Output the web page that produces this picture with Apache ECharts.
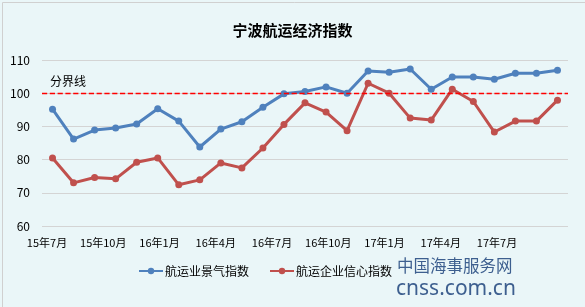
<!DOCTYPE html>
<html><head><meta charset="utf-8">
<script src="https://cdn.jsdelivr.net/npm/echarts@6/dist/echarts.min.js"></script>
<style>html,body{margin:0;padding:0;background:#EAF6F8;}#c{width:585px;height:307px;}</style>
</head><body><div id="c"></div>
<script>
var months = ['15年7月','15年8月','15年9月','15年10月','15年11月','15年12月','16年1月','16年2月','16年3月','16年4月','16年5月','16年6月','16年7月','16年8月','16年9月','16年10月','16年11月','16年12月','17年1月','17年2月','17年3月','17年4月','17年5月','17年6月','17年7月'];
var tickLabels = ['15年7月','15年10月','16年1月','16年4月','16年7月','16年10月','17年1月','17年4月','17年7月'];
var prosperity = [95.2,86.2,88.9,89.5,90.7,95.3,91.6,83.8,89.2,91.4,95.8,99.8,100.5,101.9,100.0,106.7,106.3,107.3,101.2,104.9,104.9,104.2,106.0,106.0,106.9];
var confidence = [80.5,73.0,74.6,74.2,79.2,80.5,72.4,73.9,79.0,77.5,83.5,90.6,97.1,94.3,88.7,103.0,100.0,92.5,91.9,101.2,97.5,88.3,91.6,91.6,97.9];
var threshold = 100;
var fontFam = '"Noto Sans CJK SC","Microsoft YaHei",sans-serif';
var chart = echarts.init(document.getElementById('c'));
chart.setOption({
  backgroundColor: '#EAF6F8',
  animation: false,
  title: {text: '宁波航运经济指数', left: 'center', top: 18,
    textStyle: {fontFamily: fontFam, fontSize: 15, fontWeight: 'bold', color: '#000'}},
  legend: {left: 138, top: 265, padding: 0, itemWidth: 24, itemHeight: 8, itemGap: 20,
    textStyle: {fontFamily: fontFam, fontSize: 12, color: '#000', padding: [0, 0, 0, -3]},
    data: ['航运业景气指数','航运企业信心指数']},
  grid: [
    {left: 42, right: 17, top: 60, bottom: 81},
    {left: 47, right: 88, top: 60, bottom: 81}
  ],
  xAxis: [
    {type: 'category', gridIndex: 0, data: months, boundaryGap: true,
      axisLine: {show: false}, axisTick: {show: false}, axisLabel: {show: false}},
    {type: 'category', gridIndex: 1, data: tickLabels, boundaryGap: false,
      axisLine: {show: false}, axisTick: {show: false},
      axisLabel: {interval: 0, margin: 11, fontFamily: fontFam, fontSize: 11, color: '#000'}}
  ],
  yAxis: [
    {type: 'value', gridIndex: 0, min: 60, max: 110, interval: 10,
      axisLine: {show: false}, axisTick: {show: false},
      axisLabel: {margin: 12, fontFamily: fontFam, fontSize: 12, color: '#000'},
      splitLine: {lineStyle: {color: '#d4d4d4', width: 1}}},
    {type: 'value', gridIndex: 1, min: 60, max: 110, show: false, splitLine: {show: false}}
  ],
  series: [
    {name: '航运业景气指数', type: 'line', xAxisIndex: 0, yAxisIndex: 0, data: prosperity,
      symbol: 'circle', symbolSize: 7, lineStyle: {width: 3, color: '#4F81BD'},
      itemStyle: {color: '#4F81BD'}, z: 3},
    {name: '航运企业信心指数', type: 'line', xAxisIndex: 0, yAxisIndex: 0, data: confidence,
      symbol: 'circle', symbolSize: 7, lineStyle: {width: 3, color: '#C0504D'},
      itemStyle: {color: '#C0504D'}, z: 3},
    {name: 'threshold', type: 'line', xAxisIndex: 0, yAxisIndex: 0, data: [],
      color: '#FF0000', itemStyle: {color: '#FF0000'}, lineStyle: {color: '#FF0000'},
      z: 2,
      markLine: {silent: true, symbol: ['none', 'none'],
        lineStyle: {type: 'dashed', dashOffset: 0, color: '#FF0000', width: 1.3, opacity: 1},
        label: {show: true, position: 'insideStartTop', formatter: '分界线', distance: [8, 6],
          fontFamily: fontFam, fontSize: 12, color: '#000'},
        data: [{yAxis: threshold}]}}
  ],
  graphic: [
    {type: 'rect', left: 0, top: 0, shape: {width: 584, height: 306},
      style: {fill: 'none', stroke: '#d0d0d0', lineWidth: 1}, silent: true},
    {type: 'text', left: 397, top: 257, style: {text: '中国海事服务网', font: '16.5px "Noto Sans CJK SC"', fill: '#3d5f8f'}},
    {type: 'text', left: 396, top: 279, style: {text: 'cnss.com.cn', font: '21px "Noto Sans"', fill: '#3d5f8f'}}
  ]
});
</script></body></html>
